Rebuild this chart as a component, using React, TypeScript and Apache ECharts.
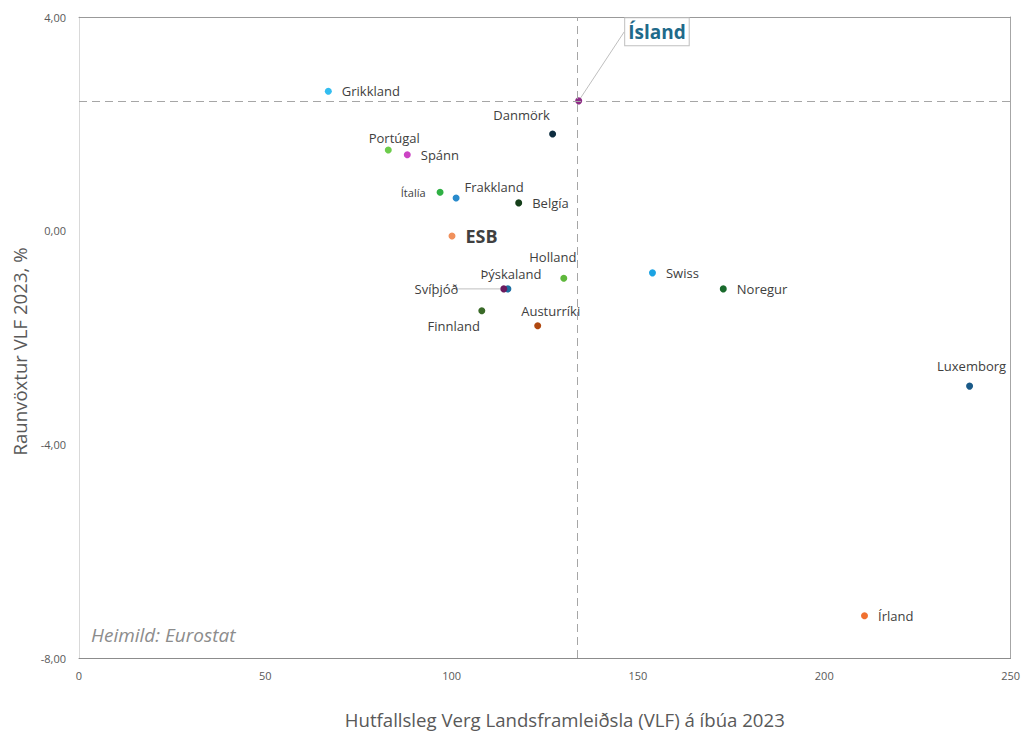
import React, { useEffect, useRef } from "react";
import * as echarts from "echarts";

const countries = ["Grikkland", "Ísland", "Danmörk", "Portúgal", "Spánn", "Ítalía", "Frakkland", "Belgía", "ESB", "Holland", "Þýskaland", "Svíþjóð", "Finnland", "Austurríki", "Swiss", "Noregur", "Luxemborg", "Írland"];
const gdpPerCapita = [66.9, 134.1, 127.1, 83.0, 88.1, 96.9, 101.2, 118.0, 100.1, 130.1, 115.1, 114.0, 108.1, 123.1, 153.9, 172.9, 239.0, 210.8];
const realGrowth = [2.61, 2.43, 1.81, 1.51, 1.42, 0.72, 0.61, 0.52, -0.1, -0.89, -1.09, -1.09, -1.5, -1.78, -0.79, -1.09, -2.91, -7.21];
const pointColors = ["#33bdf0", "#8e2a86", "#0e2d40", "#6dcc4c", "#cc44c4", "#2fb044", "#2a8bcc", "#153f1a", "#f0905c", "#5fb83c", "#1d6fa3", "#6b1a5e", "#3a6a28", "#b0480f", "#1ba3e3", "#196a2c", "#1a5a88", "#f07030"];
const icelandRef = { x: 133.6, y: 2.43 };
const xTicks = { min: 0, max: 250, interval: 50 };
const yTicks = { min: -8, max: 4, interval: 4 };

const FONT = "'Open Sans', 'Noto Sans', sans-serif";
const TXT = "#404040";

const labelCfg: Record<string, any> = {
  "Grikkland": { position: "right", distance: 10 },
  "Ísland": { position: "right", distance: 10, fontSize: 19, fontWeight: "bold", color: "#1f6a8a", backgroundColor: "#fff", borderColor: "#bfbfbf", borderWidth: 1, padding: [4, 3, 4, 3] },
  "Danmörk": { position: "top" },
  "Portúgal": { position: "top" },
  "Spánn": { position: "right", distance: 10 },
  "Ítalía": { position: "left", distance: 11, fontSize: 11 },
  "Frakkland": { position: "top" },
  "Belgía": { position: "right", distance: 10 },
  "ESB": { position: "right", distance: 10, fontSize: 18, fontWeight: "bold" },
  "Holland": { position: "top" },
  "Þýskaland": { position: "top" },
  "Svíþjóð": { position: "left", distance: 6 },
  "Finnland": { position: "bottom" },
  "Austurríki": { position: "top" },
  "Swiss": { position: "right", distance: 10 },
  "Noregur": { position: "right", distance: 10 },
  "Luxemborg": { position: "top" },
  "Írland": { position: "right", distance: 10 },
};
const shift: Record<string, [number, number]> = {
  "Ísland": [33, -69],
  "Svíþjóð": [-36, 0],
  "Danmörk": [-31, -4],
  "Portúgal": [6, 3],
  "Frakkland": [38, 4],
  "Holland": [-11, -6],
  "Þýskaland": [3, 0],
  "Finnland": [-28, 0],
  "Austurríki": [13, 0],
  "Luxemborg": [2, -5],
};
const withLeader = ["Ísland", "Svíþjóð"];

export default function App() {
  const ref = useRef<HTMLDivElement>(null);
  useEffect(() => {
    if (!ref.current) return;
    const chart = echarts.init(ref.current, undefined, { renderer: "svg" });
    const data = countries.map((name, i) => ({
      name,
      value: [gdpPerCapita[i], realGrowth[i]],
      itemStyle: { color: pointColors[i], opacity: 1 },
      label: { show: true, ...labelCfg[name] },
      labelLine: withLeader.includes(name) ? { show: true, lineStyle: { color: "#bfbfbf", width: 1 } } : { show: false },
    }));
    chart.setOption({
      animation: false,
      textStyle: { fontFamily: FONT },
      grid: { left: 79, right: 9, top: 17, bottom: 76 },
      xAxis: [
        {
          type: "value", ...xTicks,
          name: "Hutfallsleg Verg Landsframleiðsla (VLF) á íbúa 2023",
          nameLocation: "middle", nameGap: 52,
          nameTextStyle: { fontSize: 18.6, color: "#595959", fontFamily: FONT, padding: [0, 0, 0, 40] },
          axisLine: { show: true, onZero: false, lineStyle: { color: "#8c8c8c" } },
          axisTick: { show: false },
          splitLine: { show: false },
          axisLabel: { color: "#595959", fontSize: 11, margin: 12, fontFamily: FONT },
        },
        {
          type: "value", ...xTicks, position: "top",
          axisLine: { show: true, onZero: false, lineStyle: { color: "#999" } },
          axisTick: { show: false }, axisLabel: { show: false }, splitLine: { show: false },
        },
      ],
      yAxis: [
        {
          type: "value", ...yTicks,
          name: "Raunvöxtur VLF 2023, %",
          nameLocation: "middle", nameGap: 50,
          nameTextStyle: { fontSize: 18.6, color: "#595959", fontFamily: FONT, padding: [0, 28, 0, 0] },
          axisLine: { show: true, onZero: false, lineStyle: { color: "#d9d9d9" } },
          axisTick: { show: false },
          splitLine: { show: false },
          axisLabel: { color: "#595959", fontSize: 11, margin: 13, fontFamily: FONT, formatter: (v: number) => v.toFixed(2).replace(".", ",") },
        },
        {
          type: "value", ...yTicks, position: "right",
          axisLine: { show: true, onZero: false, lineStyle: { color: "#a6a6a6" } },
          axisTick: { show: false }, axisLabel: { show: false }, splitLine: { show: false },
        },
      ],
      graphic: [
        { type: "text", left: 91, top: 625, style: { text: "Heimild: Eurostat", fontSize: 19, fontStyle: "italic", fill: "#8c8c8c", fontFamily: FONT } },
      ],
      series: [
        {
          type: "scatter",
          symbolSize: 7,
          data,
          label: { color: TXT, fontSize: 13, fontFamily: FONT, formatter: "{b}" },
          labelLayout: (p: any) => {
            const m = shift[countries[p.dataIndex]];
            return m ? { dx: m[0], dy: m[1] } : {};
          },
          markLine: {
            silent: true,
            symbol: "none",
            label: { show: false },
            lineStyle: { color: "#a6a6a6", type: [8, 5], width: 1 },
            data: [{ xAxis: icelandRef.x }, { yAxis: icelandRef.y }],
          },
          z: 3,
        },
      ],
    });
    return () => chart.dispose();
  }, []);
  return <div ref={ref} style={{ position: "absolute", left: 0, top: 0, width: 1023, height: 734 }} />;
}
